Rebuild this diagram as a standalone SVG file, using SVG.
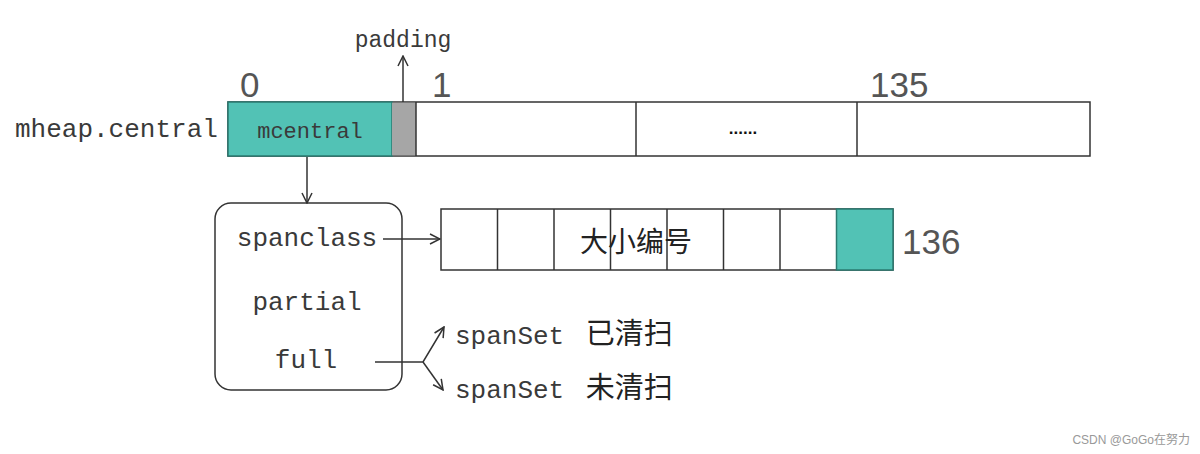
<svg xmlns="http://www.w3.org/2000/svg" width="1200" height="454" viewBox="0 0 1200 454">
<defs>
<marker id="open" viewBox="0 0 12 12" refX="11" refY="6" markerWidth="12" markerHeight="12" markerUnits="userSpaceOnUse" orient="auto">
<path d="M1,1 L11,6 L1,11" fill="none" stroke="#333" stroke-width="1.5"/>
</marker>
</defs>
<style>
.mono{font-family:"Liberation Mono","Noto Sans CJK SC",monospace;fill:#3a3a3a}
.cjk{font-family:"Noto Sans CJK SC",sans-serif;fill:#222}
.num{font-family:"Liberation Sans","Noto Sans",sans-serif;fill:#555;font-size:35px}
.cell{fill:#fff;stroke:#333;stroke-width:1.5}
.teal{fill:#52c2b5;stroke:#2a7a70;stroke-width:1.5}
.line{fill:none;stroke:#333;stroke-width:1.5}
</style>
<rect width="1200" height="454" fill="#fff"/>

<g id="mheap-central">
<text class="mono" x="15" y="137" font-size="26">mheap.central</text>
<rect class="cell" x="228" y="102" width="862" height="54"/>
<rect class="teal" x="228" y="102" width="164" height="54"/>
<rect x="392" y="102.75" width="24" height="52.5" fill="#a6a6a6" stroke="none"/>
<line class="line" x1="416" y1="102" x2="416" y2="156"/>
<line class="line" x1="636" y1="102" x2="636" y2="156"/>
<line class="line" x1="857" y1="102" x2="857" y2="156"/>
<text class="mono" x="310" y="138" font-size="22" text-anchor="middle" fill="#1e3d3a">mcentral</text>
<text x="743" y="134" font-size="17" font-family="Liberation Sans,sans-serif" font-weight="bold" text-anchor="middle" fill="#111">......</text>
<text class="num" x="240" y="97">0</text>
<text class="num" x="432" y="97">1</text>
<text class="num" x="870" y="97">135</text>
<text class="mono" x="403" y="47" font-size="23" text-anchor="middle">padding</text>
</g>

<g id="mcentral-box">
<rect x="215" y="203" width="187" height="187" rx="16" ry="16" fill="#fff" stroke="#333" stroke-width="1.5"/>
<text class="mono" x="307" y="246" font-size="26" text-anchor="middle">spanclass</text>
<text class="mono" x="307" y="310" font-size="26" text-anchor="middle">partial</text>
<text class="mono" x="306" y="368" font-size="26" text-anchor="middle">full</text>
</g>

<g id="spanclass-array">
<rect class="cell" x="441" y="209" width="452" height="61"/>
<line class="line" x1="497.5" y1="209" x2="497.5" y2="270"/>
<line class="line" x1="554" y1="209" x2="554" y2="270"/>
<line class="line" x1="610.5" y1="209" x2="610.5" y2="270"/>
<line class="line" x1="667" y1="209" x2="667" y2="270"/>
<line class="line" x1="723.5" y1="209" x2="723.5" y2="270"/>
<line class="line" x1="780" y1="209" x2="780" y2="270"/>
<rect class="teal" x="836.5" y="209" width="56.5" height="61"/>
<text class="cjk" x="636" y="252" font-size="28" text-anchor="middle">大小编号</text>
<text class="num" x="902" y="254">136</text>
</g>

<g id="spanset-swept">
<text x="455" y="344"><tspan class="mono" font-size="26">spanSet </tspan><tspan class="cjk" font-size="29" dx="6">已清扫</tspan></text>
</g>
<g id="spanset-unswept">
<text x="455" y="398"><tspan class="mono" font-size="26">spanSet </tspan><tspan class="cjk" font-size="29" dx="6">未清扫</tspan></text>
</g>

<g id="connectors">
<line class="line" x1="403" y1="102" x2="403" y2="56" marker-end="url(#open)"/>
<line class="line" x1="307" y1="157" x2="307" y2="203" marker-end="url(#open)"/>
<line class="line" x1="383" y1="239" x2="440" y2="239" marker-end="url(#open)"/>
<path class="line" d="M375,362 L423,362 L444,327" marker-end="url(#open)"/>
<path class="line" d="M423,362 L443,390" marker-end="url(#open)"/>
</g>

<text x="1190" y="444" font-family="Liberation Sans,Noto Sans CJK SC,sans-serif" font-size="12" fill="#999" text-anchor="end">CSDN @GoGo在努力</text>
</svg>
